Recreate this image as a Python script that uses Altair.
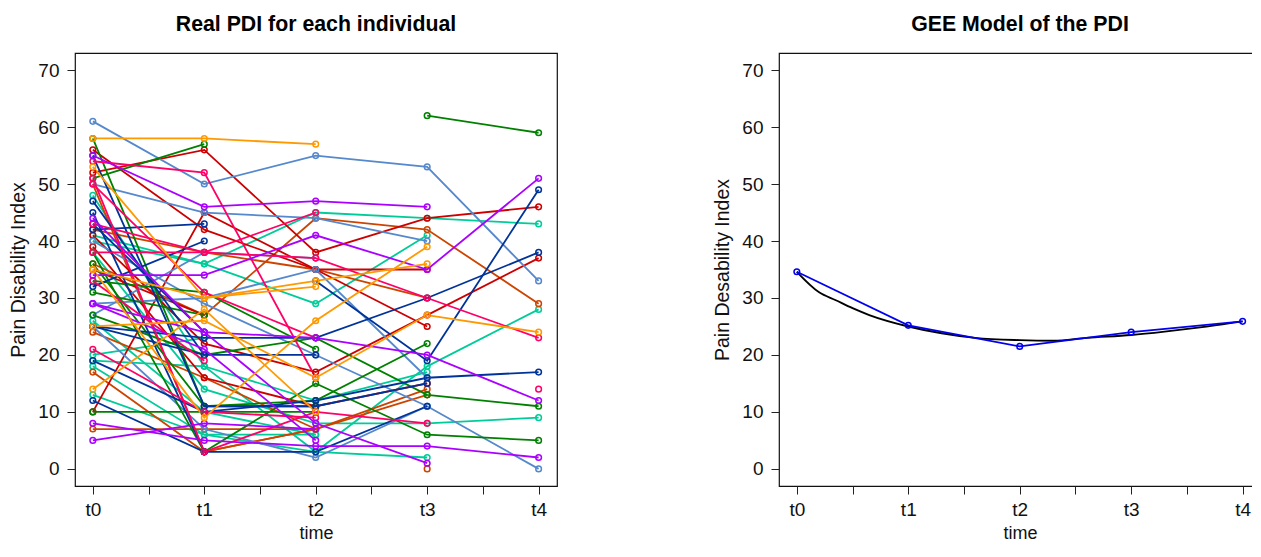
import altair as alt
import pandas as pd

RED, BLUE, GREEN, PINK, TEAL, PURPLE, ORANGE, STEEL, BROWN = (
    "#CC0000", "#003399", "#008000", "#FF0066", "#00CC99", "#AA00FF", "#FF9900", "#5588CC", "#CC4400")
_ = None

teal_lines = [[40,36,45,44,43],[41,36,29,41],[48,18,12,17],[19,18,3,18,28],[38,14,8,8,9],
              [20,23],[26,10,6],[18,6,6],[13,6,3,2]]
brown_lines = [[50,3,7,13],[17,3,7,14],[7,7,7],[24,16,7],[36,27,44,42,29],[42,38,35,30],[_,_,_,0]]
red_lines = [[52,56,38,44,46],[56,42,35,25],[10,45,35,35],[41,22,17,27,37],[39,16,11,15],[35,27]]
steel_lines = [[61,50,55,53,33],[50,45,44,40],[27,38,37],[29,30,35,16],[40,29,20,11,0],[25,7,2,11]]
green_lines = [[51,57],[58,11,11],[36,11,12,22],[38,3,15,6,5],[27,20,23,13,11],[33,31,21],[31,27],
               [10,10,10],[_,_,_,62,59]]
blue_lines = [[42,43],[32,40],[25,23,23,30,38],[25,20,20],[55,11,11,15],[19,10,12,16,17],[12,3,3,11],
              [_,_,33,19,49],[47,20],[45,3],[43,24]]
pink_lines = [[54,52,16],[51,3,10,8],[38,38,45],[43,38,37,30,23],[33,19],[21,10,9],[50,31,23],[_,_,_,_,14]]
purple_lines = [[55,46,47,46],[34,34,41,35,51],[8,5,4,4,2],[5,8,7],[29,24,23,20,12],[44,24,8,1],[29,21,5]]
orange_lines = [[58,58,57],[35,30,33,36],[35,9,26,39],[25,26,16,27,24],[14,28,10],[53,30,32]]

groups = [(TEAL, teal_lines), (BROWN, brown_lines), (RED, red_lines), (STEEL, steel_lines),
          (GREEN, green_lines), (BLUE, blue_lines), (PINK, pink_lines), (PURPLE, purple_lines), (ORANGE, orange_lines)]

rows = []
sid = 0
for col, lines in groups:
    for line in lines:
        sid += 1
        for t, v in enumerate(line):
            if v is not None:
                rows.append({"id": sid, "t": t, "v": v, "c": col})
df = pd.DataFrame(rows)

gee_t = [0, 1, 2, 3, 4]
gee_v = [34.6, 25.2, 21.5, 24.0, 25.9]
curve_t = [0, 0.2, 0.35, 0.5, 0.65, 1, 1.3, 1.6, 2, 2.3, 2.6, 3, 3.3, 3.6, 4]
curve_v = [34.6, 31.0, 29.6, 28.2, 27.0, 25.0, 23.8, 23.0, 22.6, 22.5, 23.0, 23.5, 24.1, 24.8, 25.9]
gee = pd.DataFrame({"t": gee_t, "v": gee_v})
curve = pd.DataFrame({"t": curve_t, "v": curve_v})

FONT = "Liberation Sans"
x_ticks = [0, 0.5, 1, 1.5, 2, 2.5, 3, 3.5, 4]
y_ticks = [0, 10, 20, 30, 40, 50, 60, 70]

def xenc():
    return alt.X("t:Q", scale=alt.Scale(domain=[-0.16, 4.165], nice=False, zero=False),
                 axis=alt.Axis(values=x_ticks, title="time", titleFontSize=18,
                               labelExpr="datum.value % 1 == 0 ? 't' + datum.value : ''",
                               labelPadding=6, titlePadding=5, labelFlush=False, labelOverlap=False))

def yenc(title):
    return alt.Y("v:Q", scale=alt.Scale(domain=[-3, 73], nice=False, zero=False),
                 axis=alt.Axis(values=y_ticks, title=title, titleFontSize=19.5, labelPadding=8, titlePadding=9))

def ttl(text):
    return alt.TitleParams(text, font=FONT, fontSize=21.3, fontWeight="bold", anchor="middle",
                           offset=18, color="black")

W, H = 482, 433
left = alt.layer(
    alt.Chart(df).mark_line(strokeWidth=1.8).encode(x=xenc(), y=yenc("Pain Disability Index"),
        color=alt.Color("c:N", scale=None), detail="id:N", order="t:Q"),
    alt.Chart(df).mark_point(filled=False, size=32, strokeWidth=1.5, opacity=1).encode(
        x="t:Q", y="v:Q", color=alt.Color("c:N", scale=None)),
).properties(width=W, height=H, title=ttl("Real PDI for each individual"))

right = alt.layer(
    alt.Chart(curve).mark_line(color="black", strokeWidth=1.9, interpolate="monotone").encode(x=xenc(), y=yenc("Pain Desability Index")),
    alt.Chart(gee).mark_line(color="#0000EE", strokeWidth=1.7).encode(x="t:Q", y="v:Q"),
    alt.Chart(gee).mark_point(filled=False, size=32, strokeWidth=1.5, opacity=1, color="#0000EE").encode(x="t:Q", y="v:Q"),
).properties(width=W, height=H, title=ttl("GEE Model of the PDI"))

chart = (alt.hconcat(left, right, spacing=154)
    .properties(padding={"left": 0, "top": 5, "right": -10, "bottom": -2}, background="white")
    .configure_view(stroke="#111111", strokeWidth=1.2)
    .configure_axis(domain=False, grid=False, tickColor="#222222", tickSize=8, tickWidth=1,
                    labelFont=FONT, labelFontSize=19, labelColor="#111111",
                    titleFont=FONT, titleFontWeight="normal", titleColor="#111111"))

chart.save("out.html", embed_options={"renderer": "svg", "actions": False})
